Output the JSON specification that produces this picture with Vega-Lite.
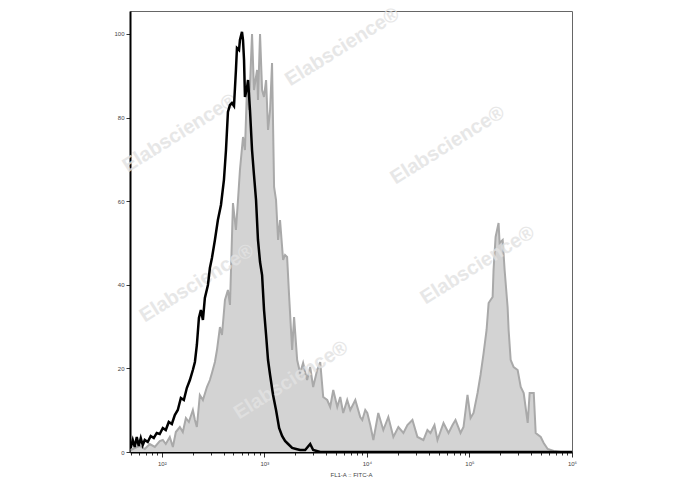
{
  "$schema": "https://vega.github.io/schema/vega-lite/v6.json",
  "autosize": {"type": "none"},
  "padding": {"left": 130, "top": 11, "right": 116, "bottom": 38},
  "width": 442,
  "height": 441,
  "background": "white",
  "config": {"view": {"stroke": "#666666", "strokeWidth": 1}, "font": "Liberation Sans"},
  "datasets": {
    "sample": [
      {"L":1.697,"c":0.48},{"L":1.736,"c":0.96},{"L":1.785,"c":1.44},{"L":1.834,"c":0.72},{"L":1.883,"c":1.91},{"L":1.932,"c":1.2},{"L":1.98,"c":2.63},{"L":2.01,"c":2.87},{"L":2.039,"c":1.91},{"L":2.078,"c":3.59},{"L":2.108,"c":1.2},{"L":2.137,"c":4.78},{"L":2.176,"c":5.98},{"L":2.205,"c":4.78},{"L":2.235,"c":8.13},{"L":2.264,"c":7.18},{"L":2.303,"c":10.05},{"L":2.323,"c":7.66},{"L":2.342,"c":5.98},{"L":2.371,"c":13.64},{"L":2.401,"c":12.44},{"L":2.44,"c":15.55},{"L":2.469,"c":17.22},{"L":2.489,"c":18.9},{"L":2.518,"c":21.53},{"L":2.538,"c":24.4},{"L":2.567,"c":29.9},{"L":2.587,"c":27.99},{"L":2.616,"c":36.36},{"L":2.645,"c":38.76},{"L":2.665,"c":35.17},{"L":2.694,"c":59.57},{"L":2.723,"c":53.11},{"L":2.743,"c":60.29},{"L":2.762,"c":67.46},{"L":2.792,"c":75.36},{"L":2.811,"c":72.25},{"L":2.831,"c":87.32},{"L":2.85,"c":81.82},{"L":2.88,"c":100},{"L":2.899,"c":86.6},{"L":2.929,"c":91.39},{"L":2.938,"c":84.21},{"L":2.958,"c":100},{"L":2.978,"c":86.6},{"L":2.997,"c":84.93},{"L":3.017,"c":88.99},{"L":3.036,"c":77.03},{"L":3.056,"c":81.82},{"L":3.075,"c":93.06},{"L":3.095,"c":63.4},{"L":3.114,"c":60.29},{"L":3.134,"c":50.72},{"L":3.153,"c":55.5},{"L":3.183,"c":45.93},{"L":3.202,"c":47.13},{"L":3.222,"c":46.65},{"L":3.241,"c":37.56},{"L":3.271,"c":24.4},{"L":3.29,"c":32.3},{"L":3.32,"c":22.01},{"L":3.349,"c":18.9},{"L":3.378,"c":21.29},{"L":3.417,"c":17.22},{"L":3.447,"c":20.33},{"L":3.476,"c":15.55},{"L":3.515,"c":19.62},{"L":3.545,"c":21.53},{"L":3.574,"c":13.16},{"L":3.613,"c":12.44},{"L":3.642,"c":10.77},{"L":3.672,"c":14.83},{"L":3.711,"c":10.77},{"L":3.74,"c":13.16},{"L":3.769,"c":9.33},{"L":3.808,"c":12.44},{"L":3.838,"c":10.05},{"L":3.887,"c":12.44},{"L":3.935,"c":8.37},{"L":3.955,"c":7.66},{"L":3.984,"c":10.05},{"L":4.004,"c":9.33},{"L":4.033,"c":6.46},{"L":4.063,"c":2.87},{"L":4.111,"c":9.33},{"L":4.16,"c":5.26},{"L":4.209,"c":8.37},{"L":4.258,"c":3.59},{"L":4.307,"c":5.98},{"L":4.356,"c":4.55},{"L":4.395,"c":6.46},{"L":4.444,"c":7.66},{"L":4.493,"c":3.59},{"L":4.551,"c":2.87},{"L":4.59,"c":5.26},{"L":4.62,"c":4.55},{"L":4.659,"c":6.46},{"L":4.688,"c":2.87},{"L":4.747,"c":6.94},{"L":4.796,"c":4.55},{"L":4.835,"c":6.46},{"L":4.864,"c":7.66},{"L":4.913,"c":4.55},{"L":4.942,"c":5.98},{"L":4.981,"c":13.64},{"L":5.011,"c":8.13},{"L":5.04,"c":9.33},{"L":5.079,"c":14.11},{"L":5.108,"c":18.42},{"L":5.138,"c":23.68},{"L":5.167,"c":29.19},{"L":5.187,"c":35.65},{"L":5.206,"c":36.36},{"L":5.226,"c":37.08},{"L":5.235,"c":43.54},{"L":5.255,"c":51.44},{"L":5.284,"c":54.78},{"L":5.294,"c":50.0},{"L":5.324,"c":50.72},{"L":5.343,"c":43.54},{"L":5.372,"c":34.69},{"L":5.382,"c":29.19},{"L":5.402,"c":22.01},{"L":5.431,"c":20.33},{"L":5.47,"c":19.62},{"L":5.5,"c":15.55},{"L":5.529,"c":14.11},{"L":5.568,"c":6.94},{"L":5.587,"c":14.11},{"L":5.627,"c":14.11},{"L":5.646,"c":4.55},{"L":5.695,"c":3.59},{"L":5.724,"c":2.15},{"L":5.763,"c":0.72},{"L":5.822,"c":0.24},{"L":5.891,"c":0},{"L":6.0,"c":0}
    ],
    "ctrl": [
      {"L":1.697,"c":0.96},{"L":1.717,"c":2.87},{"L":1.736,"c":1.2},{"L":1.756,"c":3.59},{"L":1.775,"c":1.44},{"L":1.795,"c":3.35},{"L":1.814,"c":1.67},{"L":1.834,"c":2.87},{"L":1.863,"c":2.39},{"L":1.892,"c":3.83},{"L":1.922,"c":3.35},{"L":1.951,"c":4.55},{"L":1.98,"c":4.31},{"L":2.01,"c":5.74},{"L":2.039,"c":5.26},{"L":2.068,"c":7.18},{"L":2.098,"c":6.7},{"L":2.127,"c":8.85},{"L":2.156,"c":10.05},{"L":2.186,"c":12.92},{"L":2.215,"c":12.44},{"L":2.244,"c":15.31},{"L":2.274,"c":17.22},{"L":2.303,"c":19.62},{"L":2.323,"c":21.53},{"L":2.342,"c":25.6},{"L":2.362,"c":32.06},{"L":2.381,"c":33.97},{"L":2.401,"c":31.58},{"L":2.42,"c":36.84},{"L":2.45,"c":39.95},{"L":2.469,"c":44.02},{"L":2.489,"c":46.41},{"L":2.518,"c":50.72},{"L":2.547,"c":55.5},{"L":2.577,"c":59.09},{"L":2.606,"c":65.07},{"L":2.626,"c":72.25},{"L":2.645,"c":81.34},{"L":2.665,"c":83.01},{"L":2.684,"c":83.49},{"L":2.704,"c":82.78},{"L":2.723,"c":91.39},{"L":2.733,"c":96.65},{"L":2.753,"c":96.17},{"L":2.762,"c":98.56},{"L":2.782,"c":100.5},{"L":2.792,"c":98.56},{"L":2.802,"c":93.78},{"L":2.811,"c":84.93},{"L":2.831,"c":87.08},{"L":2.841,"c":88.99},{"L":2.86,"c":81.82},{"L":2.88,"c":72.25},{"L":2.899,"c":66.27},{"L":2.919,"c":60.29},{"L":2.938,"c":50.72},{"L":2.958,"c":45.45},{"L":2.978,"c":42.34},{"L":2.997,"c":33.97},{"L":3.017,"c":27.99},{"L":3.036,"c":22.01},{"L":3.056,"c":18.42},{"L":3.085,"c":13.64},{"L":3.114,"c":10.05},{"L":3.144,"c":5.74},{"L":3.173,"c":3.83},{"L":3.202,"c":2.63},{"L":3.232,"c":1.91},{"L":3.271,"c":0.96},{"L":3.31,"c":0.72},{"L":3.349,"c":0.48},{"L":3.398,"c":0.48},{"L":3.447,"c":1.91},{"L":3.476,"c":0.48},{"L":3.545,"c":0},{"L":6.0,"c":0}
    ],
    "wm": [
      {"L":3.76,"c":96.9,"t":"Elabscience®"},
      {"L":2.176,"c":76.3,"t":"Elabscience®"},
      {"L":4.786,"c":73.4,"t":"Elabscience®"},
      {"L":2.342,"c":40.4,"t":"Elabscience®"},
      {"L":5.079,"c":44.7,"t":"Elabscience®"},
      {"L":3.261,"c":17.2,"t":"Elabscience®"}
    ]
  },
  "encoding": {
    "x": {
      "field": "L", "type": "quantitative",
      "scale": {"domain": [1.69, 6.0], "nice": false, "zero": false},
      "axis": {
        "values": [1.699,1.778,1.845,1.903,1.954,2,2.301,2.477,2.602,2.699,2.778,2.845,2.903,2.954,3,3.301,3.477,3.602,3.699,3.778,3.845,3.903,3.954,4,4.301,4.477,4.602,4.699,4.778,4.845,4.903,4.954,5,5.301,5.477,5.602,5.699,5.778,5.845,5.903,5.954,6],
        "labelExpr": "datum.value==2?'10²':datum.value==3?'10³':datum.value==4?'10⁴':datum.value==5?'10⁵':datum.value==6?'10⁶':''",
        "tickSize": {"condition": {"test": "datum.value % 1 == 0", "value": 5}, "value": 3},
        "labelOverlap": false, "labelFlush": false, "grid": false,
        "domainColor": "black", "domainWidth": 2, "tickColor": "#333333", "tickWidth": 1,
        "labelFontSize": 6, "labelColor": "#444444", "labelPadding": 3,
        "title": "FL1-A :: FITC-A", "titleFontSize": 6, "titleFontWeight": "normal", "titleColor": "#444444", "titlePadding": 5
      }
    },
    "y": {
      "field": "c", "type": "quantitative",
      "scale": {"domain": [0, 105.5], "nice": false},
      "axis": {
        "values": [0, 20, 40, 60, 80, 100], "grid": false,
        "domainColor": "black", "domainWidth": 2, "tickSize": 4, "tickColor": "#333333",
        "labelFontSize": 6, "labelColor": "#444444", "labelPadding": 2, "title": null
      }
    }
  },
  "layer": [
    {"data": {"name": "sample"}, "mark": {"type": "area", "fill": "#d3d3d3", "clip": true}},
    {"data": {"name": "sample"}, "mark": {"type": "line", "stroke": "#a9a9a9", "strokeWidth": 2, "clip": true}},
    {"data": {"name": "wm"}, "mark": {"type": "text", "angle": -32, "fontSize": 20, "fontWeight": "bold", "font": "Liberation Sans", "color": "#e2e2e2", "opacity": 0.8}, "encoding": {"text": {"field": "t"}}},
    {"data": {"name": "ctrl"}, "mark": {"type": "line", "stroke": "black", "strokeWidth": 2.5, "clip": true}}
  ]
}
